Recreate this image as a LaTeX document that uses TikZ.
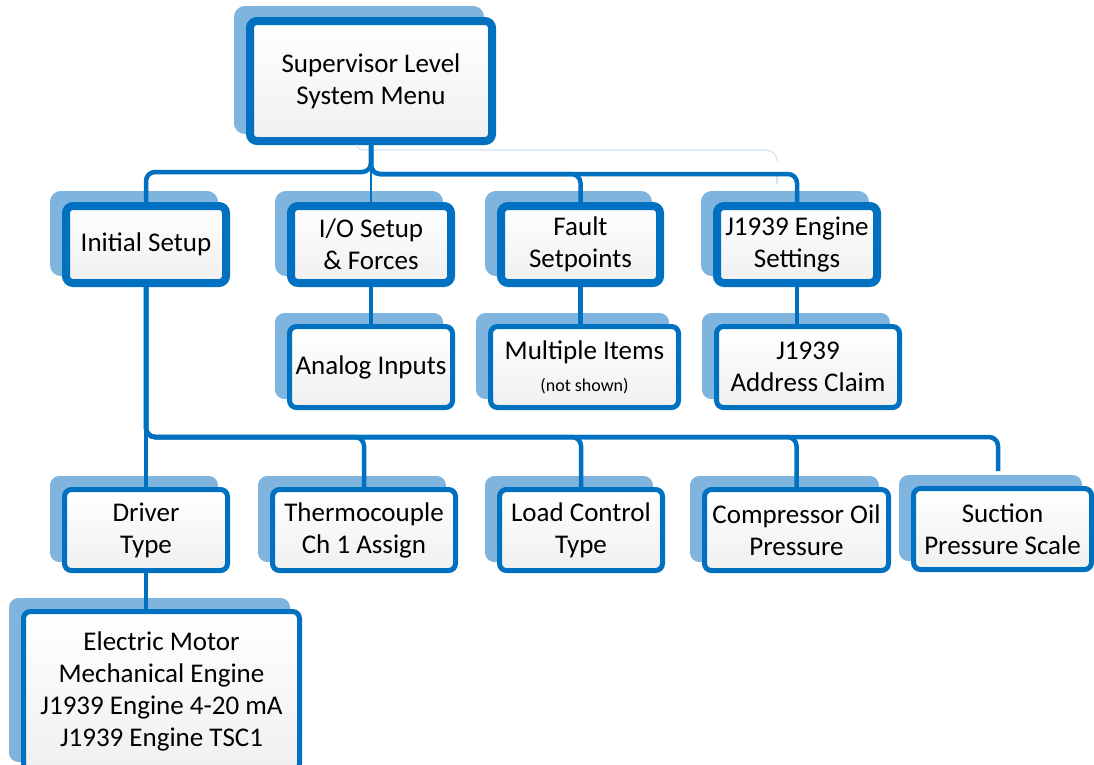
\documentclass[tikz,border=0pt]{standalone}
\usepackage{fontspec}
\setmainfont{Carlito}
\usetikzlibrary{shadows}

\begin{document}
\begin{tikzpicture}[x=1pt,y=1pt,
    menubox/.style={draw=boxblue,rounded corners=7pt,align=center,inner sep=0pt,
      top color=white,bottom color=black!6,font=\fontsize{27}{32}\selectfont},
    topbox/.style={menubox,line width=8pt,minimum height=77pt,
      general shadow={fill=shadeblue,draw=shadeblue,line width=8pt,
        shadow xshift=-12pt,shadow yshift=11pt}},
    subbox/.style={menubox,line width=5pt,minimum height=81pt,
      general shadow={fill=shadeblue,draw=shadeblue,line width=5pt,
        shadow xshift=-12pt,shadow yshift=11pt}},
    link/.style={draw=boxblue,line width=4.5pt,rounded corners=9pt}]
        \definecolor{boxblue}{HTML}{0070C0}
        \definecolor{shadeblue}{HTML}{7FB4DE}
        \colorlet{ghost}{boxblue!18}

        \useasboundingbox (0,0) rectangle (1094,-764);

        \node[topbox,minimum width=242pt,minimum height=120pt] (sup) at (371,-81) {Supervisor Level\\System Menu};

        \node[topbox,minimum width=160pt] (init)  at (146,-244.5)   {Initial Setup};
        \node[topbox,minimum width=160pt] (io)    at (371,-244.5)   {I/O Setup\\\& Forces};
        \node[topbox,minimum width=159pt] (fault) at (580.5,-244.5) {Fault\\Setpoints};
        \node[topbox,minimum width=160pt] (eng)   at (797,-244.5)   {J1939 Engine\\Settings};

        \node[subbox,minimum width=163pt] (analog) at (371,-367)   {Analog Inputs};
        \node[subbox,minimum width=188pt] (multi)  at (584.5,-367) {Multiple Items\\{\fontsize{18}{22}\selectfont(not shown)}};
        \node[subbox,minimum width=183pt] (claim)  at (808,-367)   {J1939\\Address Claim};

        \node[subbox,minimum width=163pt] (drv)    at (146,-530)    {Driver\\Type};
        \node[subbox,minimum width=183pt] (thermo) at (364,-530)    {Thermocouple\\Ch 1 Assign};
        \node[subbox,minimum width=163pt] (load)   at (581,-530)    {Load Control\\Type};
        \node[subbox,minimum width=184pt] (comp)   at (796.5,-530)  {Compressor Oil\\Pressure};
        \node[subbox,minimum width=178pt] (suct)   at (1002.5,-529) {Suction\\Pressure Scale};

        \node[subbox,minimum width=276pt,minimum height=159pt] (motor) at (161.5,-691)
          {Electric Motor\\Mechanical Engine\\J1939 Engine 4-20 mA\\J1939 Engine TSC1};

        % faint leftover line above the top bus
        \draw[ghost,line width=1.2pt] (356,-145) to[out=-60,in=180] (366,-150) -- (766,-150)
          to[out=0,in=90] (777,-161);
        \draw[ghost,line width=1.2pt] (777,-173) -- (777,-184);

        \draw[link] (sup.south) -- ++(0,-27) -| (init.north);
        \draw[link] (sup.south) -- ++(0,-29) -| (fault.north);
        \draw[link] (sup.south) -- ++(0,-29) -| (eng.north);
        \draw[boxblue,line width=2pt] (sup.south) -- (io.north);

        \draw[link] (io.south) -- (analog.north);
        \draw[link] (fault.south) -- (fault.south |- multi.north);
        \draw[link] (eng.south) -- (eng.south |- claim.north);

        \coordinate (lowbus) at (146,-437);
        \coordinate (suctend) at (998,-471);
        \draw[link] (init.south) -- (drv.north);
        \foreach \n in {thermo,load,comp}
          \draw[link] (init.south) -- (lowbus) -| (\n.north);
        \draw[link] (init.south) -- (lowbus) -| (suctend);

        \draw[link] (drv.south) -- (drv.south |- motor.north);
      \end{tikzpicture}
\end{document}
